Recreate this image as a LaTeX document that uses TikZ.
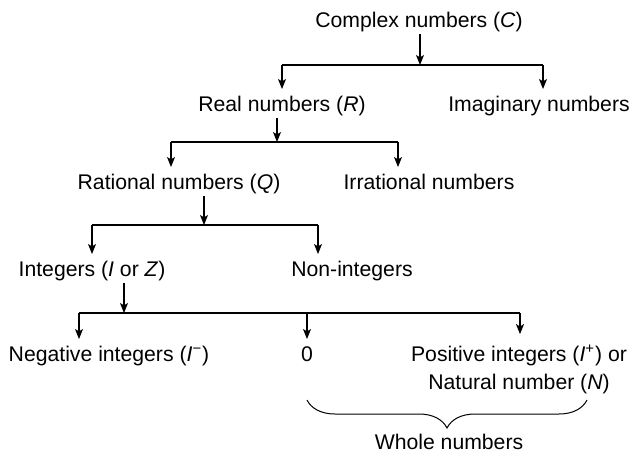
\documentclass[tikz,border=0pt]{standalone}
\usepackage{fontspec}
\setmainfont{Liberation Sans}
\usetikzlibrary{arrows.meta,decorations.pathreplacing}

\begin{document}
\begin{tikzpicture}[x=0.5pt,y=-0.5pt,
        num/.style={font=\fontsize{10.6}{14}\selectfont,anchor=base,inner xsep=0pt,inner ysep=3.5pt,text height=7.3pt,text depth=0pt},
        twoline/.style={font=\fontsize{10.6}{14}\selectfont,anchor=base,align=center,inner xsep=0pt,inner ysep=5pt},
        link/.style={line width=0.65pt,-{Stealth[length=5pt,width=4pt,inset=1.2pt]}},
        bar/.style={line width=0.65pt}]
        \useasboundingbox (0,0) rectangle (633,452);
        \node[num] at (419,27) (cplx) {Complex numbers (\textit{C})};
        \node[num] at (282,111) (real) {Real numbers (\textit{R})};
        \node[num] at (539,111) (imag) {Imaginary numbers};
        \node[num] at (179,189) (rat) {Rational numbers (\textit{Q})};
        \node[num] at (429,189) (irr) {Irrational numbers};
        \node[num] at (92,276) (int) {Integers (\textit{I} or \textit{Z})};
        \node[num] at (352,276) (nonint) {Non-integers};
        \node[num] at (109,361) (neg) {Negative integers (\textit{I}\textsuperscript{−})};
        \node[num] at (307,361) (zero) {0};
        \node[twoline] at (519,389) (pos) {Positive integers (\textit{I}\textsuperscript{+}) or\\Natural number (\textit{N})};
        \node[num,inner ysep=0pt] at (449,449) (whole) {Whole numbers};
        \coordinate (b1) at (420,65);
        \coordinate (b1l) at (282,65);
        \coordinate (b1r) at (543,65);
        \coordinate (b2) at (277,142);
        \coordinate (b2l) at (171,142);
        \coordinate (b2r) at (398,142);
        \coordinate (b3) at (204,225);
        \coordinate (b3l) at (92,225);
        \coordinate (b3r) at (318,225);
        \coordinate (b4) at (124,313);
        \coordinate (b4l) at (79,313);
        \coordinate (b4m) at (307,313);
        \coordinate (b4r) at (520,313);
        \coordinate (wl) at (307,400);
        \coordinate (wr) at (587,400);
        \draw[link] (cplx.south -| b1) -- (b1);
        \draw[bar] (b1l) -- (b1r);
        \draw[link] (b1l) -- (real.north -| b1l);
        \draw[link] (b1r) -- (imag.north -| b1r);
        \draw[link] (real.south -| b2) -- (b2);
        \draw[bar] (b2l) -- (b2r);
        \draw[link] (b2l) -- (rat.north -| b2l);
        \draw[link] (b2r) -- (irr.north -| b2r);
        \draw[link] (rat.south -| b3) -- (b3);
        \draw[bar] (b3l) -- (b3r);
        \draw[link] (b3l) -- (int.north -| b3l);
        \draw[link] (b3r) -- (nonint.north -| b3r);
        \draw[link] (int.south -| b4) -- (b4);
        \draw[bar] (b4l) -- (b4r);
        \draw[link] (b4l) -- (neg.north -| b4l);
        \draw[link] (b4m) -- (zero.north -| b4m);
        \draw[link] (b4r) -- (pos.north -| b4r);
        \draw[line width=0.5pt,decorate,decoration={brace,mirror,amplitude=14pt}] (wl) -- (wr);
    \end{tikzpicture}
\end{document}
